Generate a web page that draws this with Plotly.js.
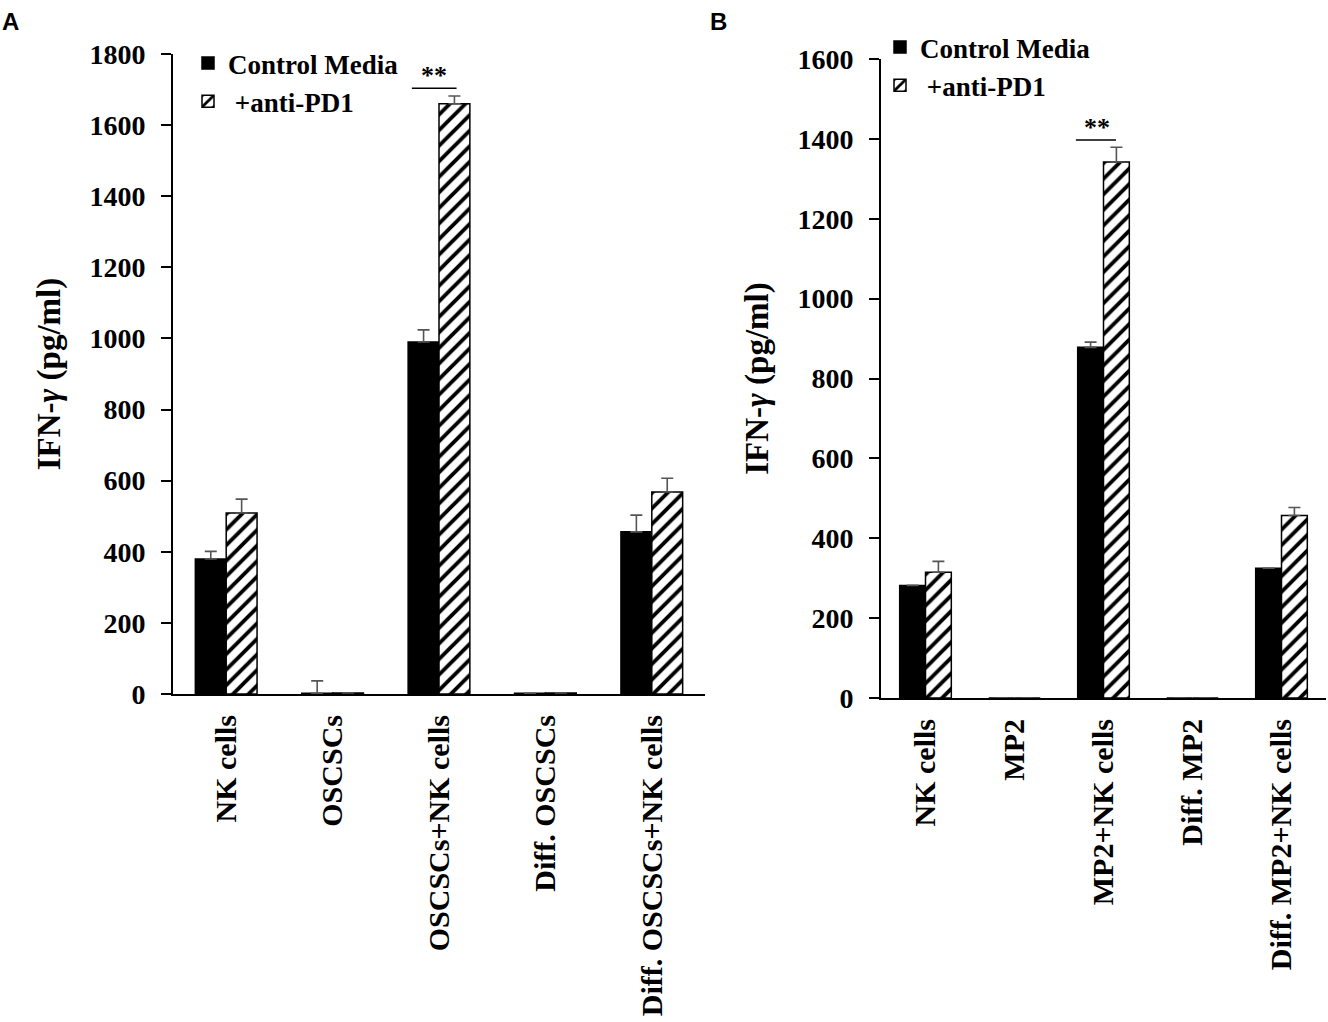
<!DOCTYPE html>
<html>
<head>
<meta charset="utf-8">
<script src="https://cdn.plot.ly/plotly-3.0.1.min.js"></script>
<style>html,body{margin:0;padding:0;background:#fff;}</style>
</head>
<body>
<div id="chart" style="width:1328px;height:1022px;"></div>
<script>
// Panel A data
const catsA = ["NK cells", "OSCSCs", "OSCSCs+NK cells", "Diff. OSCSCs", "Diff. OSCSCs+NK cells"];
const ctrlA = [380, 2, 990, 2, 456];
const ctrlErrA = [21, 35, 34, null, 47];
const pd1A = [509, 3, 1660, 3, 568];
const pd1ErrA = [39, null, 22, null, 39];

// Panel B data
const catsB = ["NK cells", "MP2", "MP2+NK cells", "Diff. MP2", "Diff. MP2+NK cells"];
const ctrlB = [282, 0, 878, 0, 325];
const ctrlErrB = [null, null, 13, null, null];
const pd1B = [315, 0, 1342, 0, 457];
const pd1ErrB = [27, null, 37, null, 20];

const seriesNames = ["Control Media", "\u00a0+anti-PD1"];
const yTicksA = [0, 200, 400, 600, 800, 1000, 1200, 1400, 1600, 1800];
const yTicksB = [0, 200, 400, 600, 800, 1000, 1200, 1400, 1600];

const serif = "Liberation Serif, Times New Roman, serif";
const W = 1328, H = 1022;
const zeros = n => new Array(n).fill(0);

function errBar(arr) {
  return {type: 'data', symmetric: false, array: arr, arrayminus: zeros(arr.length),
          color: '#555', thickness: 1.6, width: 6, visible: true};
}

const ctrlMarker = {color: '#000', line: {color: '#000', width: 1.5}};
const pd1Marker = {color: '#fff', line: {color: '#000', width: 1.5},
  pattern: {shape: '/', fgcolor: '#000', bgcolor: '#fff', size: 11, solidity: 0.35}};

const traces = [
  {type: 'bar', x: catsA, y: ctrlA, name: seriesNames[0], marker: ctrlMarker,
   error_y: errBar(ctrlErrA), xaxis: 'x', yaxis: 'y', legend: 'legend'},
  {type: 'bar', x: catsA, y: pd1A, name: seriesNames[1], marker: pd1Marker,
   error_y: errBar(pd1ErrA), xaxis: 'x', yaxis: 'y', legend: 'legend'},
  {type: 'bar', x: catsB, y: ctrlB, name: seriesNames[0], marker: ctrlMarker,
   error_y: errBar(ctrlErrB), xaxis: 'x2', yaxis: 'y2', legend: 'legend2'},
  {type: 'bar', x: catsB, y: pd1B, name: seriesNames[1], marker: pd1Marker,
   error_y: errBar(pd1ErrB), xaxis: 'x2', yaxis: 'y2', legend: 'legend2'}
];

const yTickFont = {family: serif, size: 28, color: '#000', weight: 700};
const xTickFont = {family: serif, size: 30, color: '#000', weight: 700};

function xAxis(domain, anchor) {
  return {domain: domain, anchor: anchor, type: 'category', showline: true, linecolor: '#000',
    linewidth: 2, ticks: '', tickangle: -90, tickfont: xTickFont, ticklabelstandoff: 7,
    showgrid: false, zeroline: false, fixedrange: true};
}
function yAxis(domain, anchor, range, tickvals) {
  return {domain: domain, anchor: anchor, range: range, tickvals: tickvals,
    ticktext: tickvals.map(String), showline: true, linecolor: '#000', linewidth: 2,
    ticks: 'outside', ticklen: 10, tickwidth: 2, tickcolor: '#000', tickfont: yTickFont,
    ticklabelstandoff: 10, showgrid: false, zeroline: false, fixedrange: true,
    title: {text: 'IFN-<i>γ</i> (pg/ml)', font: {family: serif, size: 33, color: '#000', weight: 700}, standoff: 19}};
}

const legendFont = {family: serif, size: 27, color: '#000', weight: 700};

const layout = {
  width: W, height: H,
  margin: {l: 0, r: 0, t: 0, b: 0},
  paper_bgcolor: '#fff', plot_bgcolor: '#fff',
  barmode: 'group', bargap: 0.42, bargroupgap: 0,
  xaxis: xAxis([173 / W, 705 / W], 'y'),
  yaxis: yAxis([(H - 694) / H, (H - 54) / H], 'x', [0, 1800], yTicksA),
  xaxis2: xAxis([881 / W, 1326 / W], 'y2'),
  yaxis2: yAxis([(H - 698) / H, (H - 59) / H], 'x2', [0, 1600], yTicksB),
  legend: {x: 188 / W, y: 1 - 39 / H, xanchor: 'left', yanchor: 'top', font: legendFont,
    bgcolor: 'rgba(0,0,0,0)', itemwidth: 30, tracegroupgap: 0, traceorder: 'normal'},
  legend2: {x: 880 / W, y: 1 - 23 / H, xanchor: 'left', yanchor: 'top', font: legendFont,
    bgcolor: 'rgba(0,0,0,0)', itemwidth: 30, tracegroupgap: 0, traceorder: 'normal'},
  shapes: [
    {type: 'line', xref: 'x', yref: 'y', x0: 1.745, x1: 2.165, y0: 1704, y1: 1704,
     line: {color: '#000', width: 1.5}},
    {type: 'line', xref: 'x2', yref: 'y2', x0: 1.69, x1: 2.14, y0: 1397, y1: 1397,
     line: {color: '#000', width: 1.5}}
  ],
  annotations: [
    {text: '**', xref: 'x', yref: 'y', x: 1.95, y: 1704, yanchor: 'bottom', showarrow: false,
     font: {family: serif, size: 26, color: '#000', weight: 700}, yshift: -4},
    {text: '**', xref: 'x2', yref: 'y2', x: 1.93, y: 1397, yanchor: 'bottom', showarrow: false,
     font: {family: serif, size: 26, color: '#000', weight: 700}, yshift: -4},
    {text: 'A', xref: 'paper', yref: 'paper', x: 0, y: 1 - 6 / H, xanchor: 'left', yanchor: 'top',
     showarrow: false, font: {family: 'Liberation Sans, Arial, sans-serif', size: 24, color: '#000', weight: 700}},
    {text: 'B', xref: 'paper', yref: 'paper', x: 708 / W, y: 1 - 6 / H, xanchor: 'left', yanchor: 'top',
     showarrow: false, font: {family: 'Liberation Sans, Arial, sans-serif', size: 24, color: '#000', weight: 700}}
  ]
};

Plotly.newPlot('chart', traces, layout, {displayModeBar: false, staticPlot: true});
</script>
</body>
</html>
